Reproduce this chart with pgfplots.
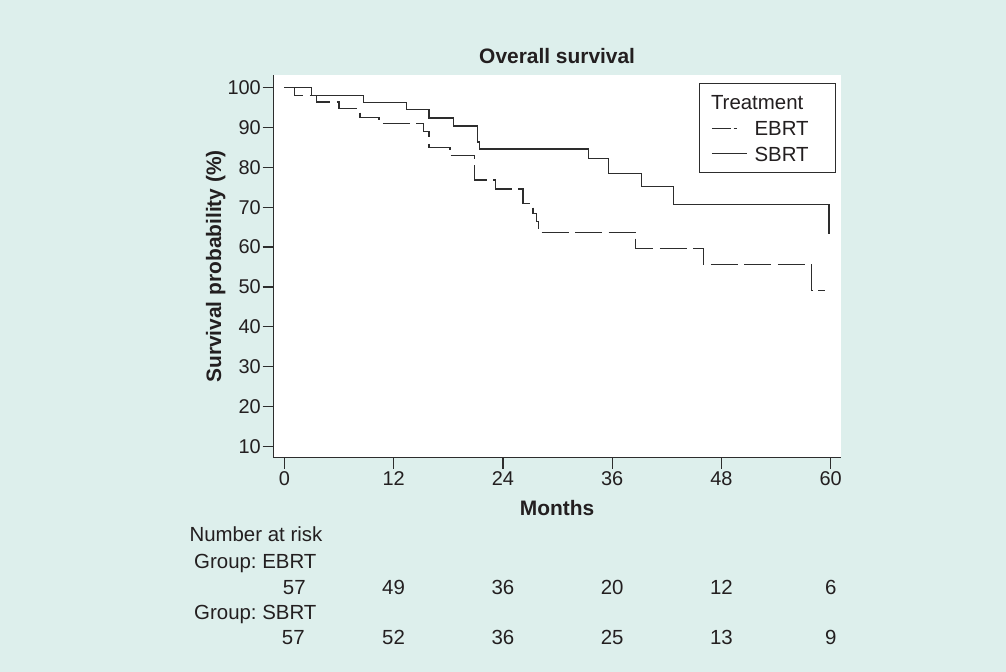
\documentclass[border=0pt]{standalone}
\usepackage{fontspec}
\setmainfont{Liberation Sans}
\usepackage{pgfplots}
\pgfplotsset{compat=1.18}
\definecolor{bgc}{RGB}{221,239,236}
\definecolor{txt}{RGB}{35,31,32}
\definecolor{ln}{RGB}{45,45,45}
\newcommand{\tf}{\fontsize{20.5}{24}\selectfont}
\newcommand{\bff}{\bfseries\fontsize{21}{25}\selectfont}
\pgfplotsset{
  ebrtleg/.style={legend image code/.code={\draw[##1, dash pattern=on 19bp off 2.7bp on 3bp off 20bp] (0bp,0bp) -- (24.7bp,0bp);}},
  sbrtleg/.style={legend image code/.code={\draw[##1] (0bp,0bp) -- (35bp,0bp);}},
}
\frenchspacing
\begin{document}
\frenchspacing
\begin{tikzpicture}
\fill[bgc] (0bp,0bp) rectangle (1006bp,-672bp);
\begin{axis}[
  at={(273.3bp,-457.7bp)}, anchor=south west,
  width=567.7bp, height=382.7bp, scale only axis,
  xmin=-1.21, xmax=61.13, ymin=7.11, ymax=103.19,
  clip=false,
  axis x line*=bottom, axis y line*=left,
  axis line style={-, line width=1.3bp, color=ln},
  axis background/.style={fill=white},
  xtick={0,12,24,36,48,60}, ytick={10,20,30,40,50,60,70,80,90,100},
  minor tick num=0,
  tick align=outside, major tick length=10.8bp,
  tick style={line width=1.3bp, color=ln},
  /pgf/number format/assume math mode=true,
  ticklabel style={font=\fontsize{20}{24}\selectfont, text=txt},
  yticklabel style={inner xsep=1.5bp},
  title={Overall survival},
  every axis title/.style={at={(axis description cs:0.5,1)}, anchor=base, yshift=11.7bp, font=\bff, text=txt},
  xlabel={Months},
  every axis x label/.style={at={(axis description cs:0.5,0)}, anchor=base, yshift=-57.8bp, font=\bff, text=txt},
  ylabel={Survival probability (\%)},
  every axis y label/.style={at={(axis description cs:-0.0921,0.5)}, rotate=90, anchor=base, font=\bff, text=txt},
  legend cell align=left,
  legend style={at={(axis description cs:1,1)}, anchor=north east, xshift=-5bp, yshift=-8.3bp,
    draw=ln, line width=1bp, fill=white, inner xsep=12bp, inner ysep=11.3bp,
    row sep=11bp, column sep=7bp, font=\tf, text=txt,
    nodes={inner sep=0pt, text height=14.7bp, text depth=0pt}},
]
\addlegendimage{empty legend}
\addlegendentry{\makebox[0pt][l]{\hspace*{-44bp}Treatment}}
\addplot[const plot, color=ln, line width=1.25bp, dash pattern=on 27bp off 6.5bp, ebrtleg]
  coordinates {
  (0,100) (1.1,98.0) (3.5,96.4) (6.0,94.7) (8.3,92.6) (10.4,91.1)
  (15.3,89.0) (15.9,85.0) (18.2,82.9) (20.9,76.8) (23.2,74.6)
  (26.2,70.9) (27.3,68.5) (27.7,66.4) (27.9,63.7) (38.6,59.7)
  (46.0,55.7) (57.9,49.0) (59.4,49.0)
  };
\addlegendentry{\makebox[69bp][l]{EBRT}}
\addplot[const plot, color=ln, line width=1.25bp, sbrtleg]
  coordinates {
  (0,100) (3.0,98.0) (8.7,96.3) (13.4,94.5) (15.9,92.4) (18.6,90.4)
  (21.2,86.4) (21.4,84.6) (33.4,82.3) (35.6,78.5) (39.2,75.2)
  (42.7,70.6) (59.8,63.5) (59.9,63.5)
  };
\addlegendentry{\makebox[69bp][l]{SBRT}}
% number at risk table
\node[anchor=base west, font=\tf, text=txt, yshift=-84.0bp] at (axis description cs:-0.1538,0) {Number at risk};
\node[anchor=base west, font=\tf, text=txt, yshift=-110.6bp] at (axis description cs:-0.1455,0) {Group:\ EBRT};
\node[anchor=base west, font=\tf, text=txt, yshift=-161.6bp] at (axis description cs:-0.1455,0) {Group:\ SBRT};
\node[anchor=base, font=\tf, text=txt, yshift=-136.3bp, xshift=10bp] at (axis cs:0,7.11) {57};
\node[anchor=base, font=\tf, text=txt, yshift=-136.3bp] at (axis cs:12,7.11) {49};
\node[anchor=base, font=\tf, text=txt, yshift=-136.3bp] at (axis cs:24,7.11) {36};
\node[anchor=base, font=\tf, text=txt, yshift=-136.3bp] at (axis cs:36,7.11) {20};
\node[anchor=base, font=\tf, text=txt, yshift=-136.3bp] at (axis cs:48,7.11) {12};
\node[anchor=base, font=\tf, text=txt, yshift=-136.3bp] at (axis cs:60,7.11) {6};
\node[anchor=base, font=\tf, text=txt, yshift=-186.3bp, xshift=9bp] at (axis cs:0,7.11) {57};
\node[anchor=base, font=\tf, text=txt, yshift=-186.3bp] at (axis cs:12,7.11) {52};
\node[anchor=base, font=\tf, text=txt, yshift=-186.3bp] at (axis cs:24,7.11) {36};
\node[anchor=base, font=\tf, text=txt, yshift=-186.3bp] at (axis cs:36,7.11) {25};
\node[anchor=base, font=\tf, text=txt, yshift=-186.3bp] at (axis cs:48,7.11) {13};
\node[anchor=base, font=\tf, text=txt, yshift=-186.3bp] at (axis cs:60,7.11) {9};
\end{axis}
\end{tikzpicture}
\end{document}
